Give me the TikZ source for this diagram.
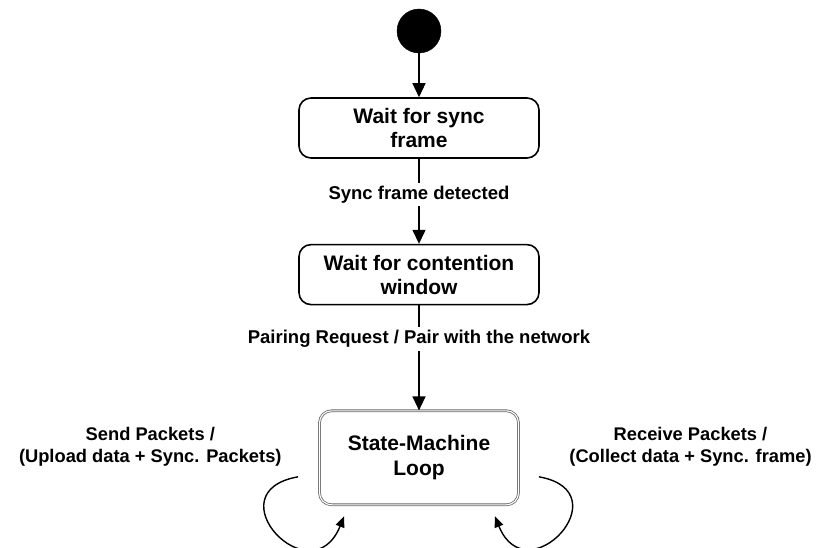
\documentclass[tikz,border=0pt]{standalone}
\usepackage{fontspec}
\setmainfont{Liberation Sans}
\usepackage{tikz}
\usetikzlibrary{shapes,arrows.meta,positioning}
\definecolor{boxgray}{RGB}{105,105,105}
\tikzstyle{init} = [circle, draw=black, fill=black, inner sep=0pt, minimum size = 44pt]
\tikzstyle{statebox} = [rectangle, rounded corners=12pt, draw=black, line width=1.6pt, fill=white, align=center, font=\bfseries\fontsize{21}{24}\selectfont, minimum width = 240pt, minimum height = 60pt]
\tikzstyle{loopbox} = [rectangle, rounded corners=12pt, draw=boxgray, double=white, double distance=1.1pt, line width=0.8pt, align=center, font=\bfseries\fontsize{21}{25}\selectfont, minimum width = 199pt, minimum height = 94pt]
\tikzstyle{edgetext} = [fill=white, align=center, inner sep=3pt, font=\bfseries\fontsize{18.5}{22}\selectfont]
\tikzstyle{sidetext} = [draw=none, fill=none, align=center, font=\bfseries\fontsize{18.3}{21.5}\selectfont]
\tikzstyle{tedge}  = [draw, line width=1.4pt, -{Triangle[width=13pt,length=14pt]}]
\tikzstyle{loopedge}  = [draw, line width=1.4pt, -{Triangle[width=9pt,length=11pt]}]

\begin{document}
\begin{tikzpicture}
\useasboundingbox (-419pt,31pt) rectangle (397pt,-516pt);

% states =============================
\node[init] (start) at (0,0) {};
\node[statebox, below=44pt of start] (syncwait) {Wait for sync\\frame};
\node[statebox, below=85pt of syncwait] (contwait) {Wait for contention\\window};
\node[loopbox, below=105pt of contwait] (smloop) {State-Machine\\Loop};

% text only
\node[sidetext, left=34pt of smloop, yshift=11pt] (sendtxt) {Send Packets /\\(Upload data + Sync. Packets)};
\node[sidetext, right=47pt of smloop, yshift=11pt] (recvtxt) {Receive Packets /\\(Collect data + Sync. frame)};

% loop ends
\coordinate (sendfrom) at ([xshift=-21pt, yshift=-19pt]smloop.west);
\coordinate (sendto) at ([xshift=25pt, yshift=-11pt]smloop.south west);
\coordinate (recvfrom) at ([xshift=20pt, yshift=-19pt]smloop.east);
\coordinate (recvto) at ([xshift=-24pt, yshift=-11pt]smloop.south east);

% edges
\path[tedge] (start) -- (syncwait);
\path[tedge] (syncwait) -- node[edgetext, pos=0.42] (synctxt) {Sync frame detected} (contwait);
\path[tedge] (contwait) -- node[edgetext, pos=0.32] (pairtxt) {Pairing Request / Pair with the network} (smloop);

\path[loopedge] (sendfrom) to[out=190, in=-112, looseness=3.7] (sendto);
\path[loopedge] (recvfrom) to[out=-10, in=-68, looseness=3.7] (recvto);

\end{tikzpicture}
\end{document}
